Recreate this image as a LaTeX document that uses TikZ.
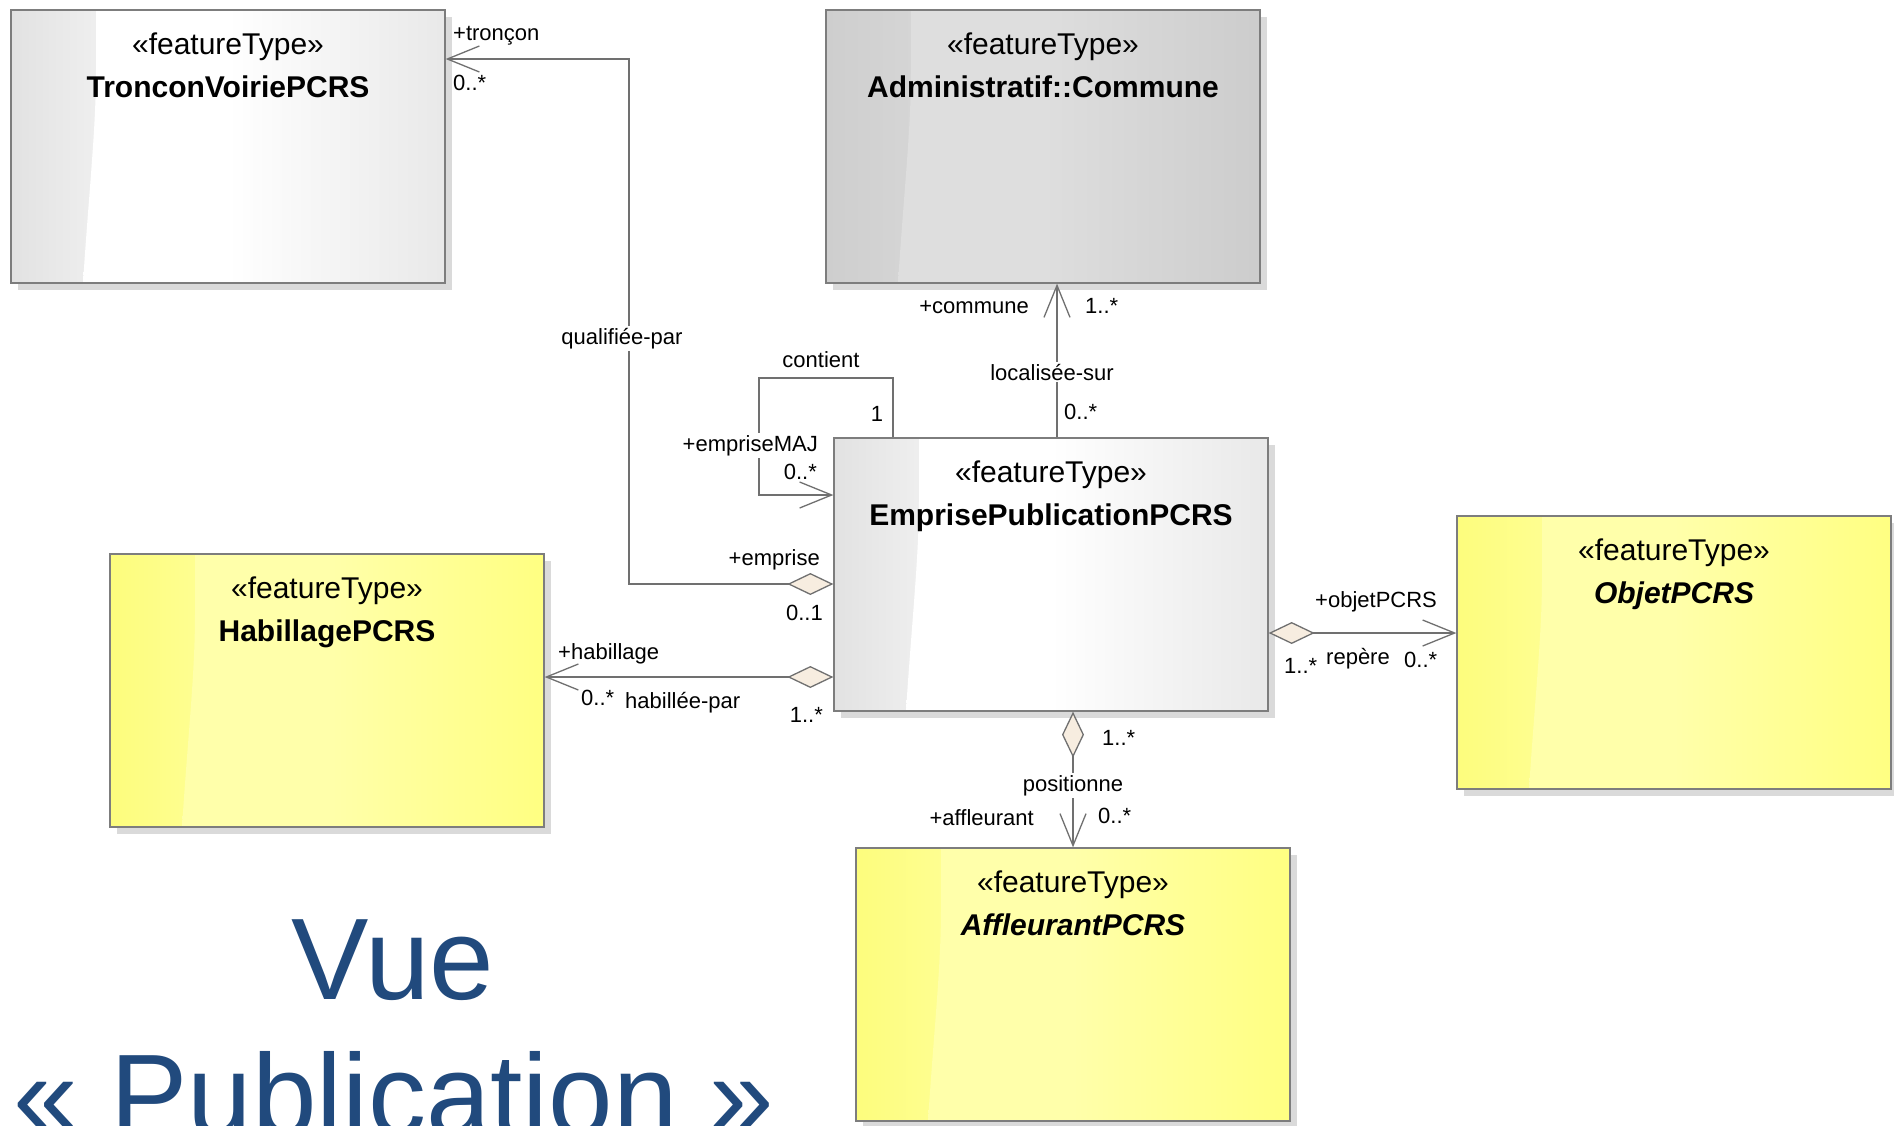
\documentclass[tikz,border=0pt]{standalone}
\usepackage{fontspec}
\setmainfont{Liberation Sans}
\usetikzlibrary{arrows.meta,calc}

\definecolor{linec}{RGB}{112,112,112}
\definecolor{borderc}{RGB}{125,125,125}
\definecolor{shadowc}{RGB}{218,218,218}
\definecolor{diamc}{RGB}{247,237,224}
\definecolor{titlec}{RGB}{33,74,125}
\definecolor{wband}{RGB}{226,226,226}
\definecolor{wright}{RGB}{214,214,214}
\definecolor{gband}{RGB}{206,206,206}
\definecolor{gleft}{RGB}{222,222,222}
\definecolor{gright}{RGB}{190,190,190}
\definecolor{yband}{RGB}{253,253,125}
\definecolor{yleft}{RGB}{255,255,170}
\definecolor{yright}{RGB}{255,255,96}
\colorlet{boxL}{white}
\colorlet{boxR}{gray}

\pgfdeclarehorizontalshading[boxL,boxR]{boxfade}{100bp}{color(0bp)=(boxL); color(45bp)=(boxL); color(100bp)=(boxR)}

\tikzset{
  cbox/.style={draw=borderc, line width=1.3pt, rectangle, minimum width=434pt, minimum height=273pt, inner sep=0pt},
  stereo/.style={anchor=base, inner sep=0pt, font=\fontsize{30pt}{34pt}\selectfont},
  cname/.style={anchor=base, inner sep=0pt, font=\fontsize{30pt}{34pt}\selectfont\bfseries},
  lbl/.style={inner sep=0pt, font=\fontsize{22pt}{26pt}\selectfont},
  lblw/.style={inner sep=2pt, fill=white, font=\fontsize{22pt}{26pt}\selectfont},
  assoc/.style={draw=linec, line width=1.3pt},
  barb/.tip={Straight Barb[length=32pt,width=26pt]},
  agg/.tip={Diamond[length=46pt,width=22pt,fill=diamc]},
  bigtitle/.style={anchor=base, inner sep=0pt, text=titlec, font=\fontsize{116pt}{136pt}\selectfont}
}

\newcommand\umlclass[7]{%
  \colorlet{boxL}{#5}\colorlet{boxR}{#6}%
  \fill[shadowc] (#2+7,#3+7) rectangle (#2+441,#3+280);
  \shade[left color=#4, right color=#4!55!#5] (#2,#3) rectangle (#2+90,#3+273);
  \shade[shading=boxfade] (#2+72,#3+273) .. controls (#2+78,#3+180) and (#2+85,#3+120) .. (#2+85,#3+60) -- (#2+85,#3) -- (#2+434,#3) -- (#2+434,#3+273) -- cycle;
  \node[cbox, name=#1] at (#2+217,#3+136.5) {};
  \node[stereo] (#1-st) at ([yshift=-45pt]#1.north) {«featureType»};
  \node[cname] (#1-nm) at ([yshift=-88pt]#1.north) {#7};
}

\begin{document}
\begin{tikzpicture}[x=1pt,y=-1pt]
\useasboundingbox (0,0) rectangle (1894,1125);
\clip (0,0) rectangle (1894,1125);
\fill[white] (0,0) rectangle (1894,1125);

\umlclass{troncon}{11}{10}{wband}{white}{wright}{TronconVoiriePCRS}
\umlclass{commune}{826}{10}{gband}{gleft}{gright}{Administratif::Commune}
\umlclass{emprise}{834}{438}{wband}{white}{wright}{EmprisePublicationPCRS}
\umlclass{habillage}{110}{554}{yband}{yleft}{yright}{HabillagePCRS}
\umlclass{objet}{1457}{516}{yband}{yleft}{yright}{\itshape ObjetPCRS}
\umlclass{affleurant}{856}{848}{yband}{yleft}{yright}{\itshape AffleurantPCRS}

% coordinates for connector bends
\coordinate (q1) at (629,59);
\coordinate (q2) at (629,584);
\coordinate (c1) at (893,378);
\coordinate (c2) at (759,378);
\coordinate (c3) at (759,495);
\coordinate (l1) at (1057,0);
\coordinate (h1) at (0,677);
\coordinate (r1) at (0,633);
\coordinate (p1) at (1073,0);

% qualifiee-par
\draw[assoc, {agg}-{barb}] (emprise.west |- q2) -- (q2) -- (q1) -- (troncon.east |- q1);
% contient
\draw[assoc, -{barb}] (emprise.north -| c1) -- (c1) -- (c2) -- (c3) -- (emprise.west |- c3);
% localisee-sur
\draw[assoc, -{barb}] (emprise.north -| l1) -- (commune.south -| l1);
% habillee-par
\draw[assoc, {agg}-{barb}] (emprise.west |- h1) -- (habillage.east |- h1);
% repere
\draw[assoc, {agg}-{barb}] (emprise.east |- r1) -- (objet.west |- r1);
% positionne
\draw[assoc, {agg}-{barb}] (emprise.south -| p1) -- (affleurant.north -| p1);

% labels
\node[lbl, anchor=base west] (l-troncon) at (453,40) {+tronçon};
\node[lbl, anchor=base west] (l-troncon-m) at (453,90) {0..*};
\node[lblw, anchor=base] (l-qualif) at (622,344) {qualifiée-par};
\node[lbl, anchor=base] (l-contient) at (821,367) {contient};
\node[lbl, anchor=base] (l-one) at (877,421) {1};
\node[lblw, anchor=base east] (l-empmaj) at (820,451) {+empriseMAJ};
\node[lbl, anchor=base east] (l-empmaj-m) at (817,479) {0..*};
\node[lbl, anchor=base east] (l-commune) at (1029,313) {+commune};
\node[lbl, anchor=base west] (l-commune-m) at (1085,313) {1..*};
\node[lblw, anchor=base] (l-localisee) at (1052,380) {localisée-sur};
\node[lbl, anchor=base west] (l-localisee-m) at (1064,419) {0..*};
\node[lbl, anchor=base east] (l-emprise) at (820,565) {+emprise};
\node[lbl, anchor=base east] (l-emprise-m) at (823,620) {0..1};
\node[lbl, anchor=base west] (l-habillage) at (558,659) {+habillage};
\node[lbl, anchor=base west] (l-habillage-m) at (581,705) {0..*};
\node[lbl, anchor=base west] (l-habillee) at (625,708) {habillée-par};
\node[lbl, anchor=base east] (l-habillee-m) at (823,722) {1..*};
\node[lbl, anchor=base west] (l-objet) at (1315,607) {+objetPCRS};
\node[lbl, anchor=base west] (l-repere-m1) at (1284,673) {1..*};
\node[lbl, anchor=base west] (l-repere) at (1326,664) {repère};
\node[lbl, anchor=base west] (l-repere-m2) at (1404,667) {0..*};
\node[lbl, anchor=base west] (l-pos-m1) at (1102,745) {1..*};
\node[lblw, anchor=base] (l-positionne) at (1073,791) {positionne};
\node[lbl, anchor=base east] (l-affleurant) at (1034,825) {+affleurant};
\node[lbl, anchor=base west] (l-pos-m2) at (1098,823) {0..*};

% title
\node[bigtitle] (title1) at (393,999) {Vue};
\node[bigtitle] (title2) at (394,1135) {« Publication »};
\end{tikzpicture}
\end{document}
